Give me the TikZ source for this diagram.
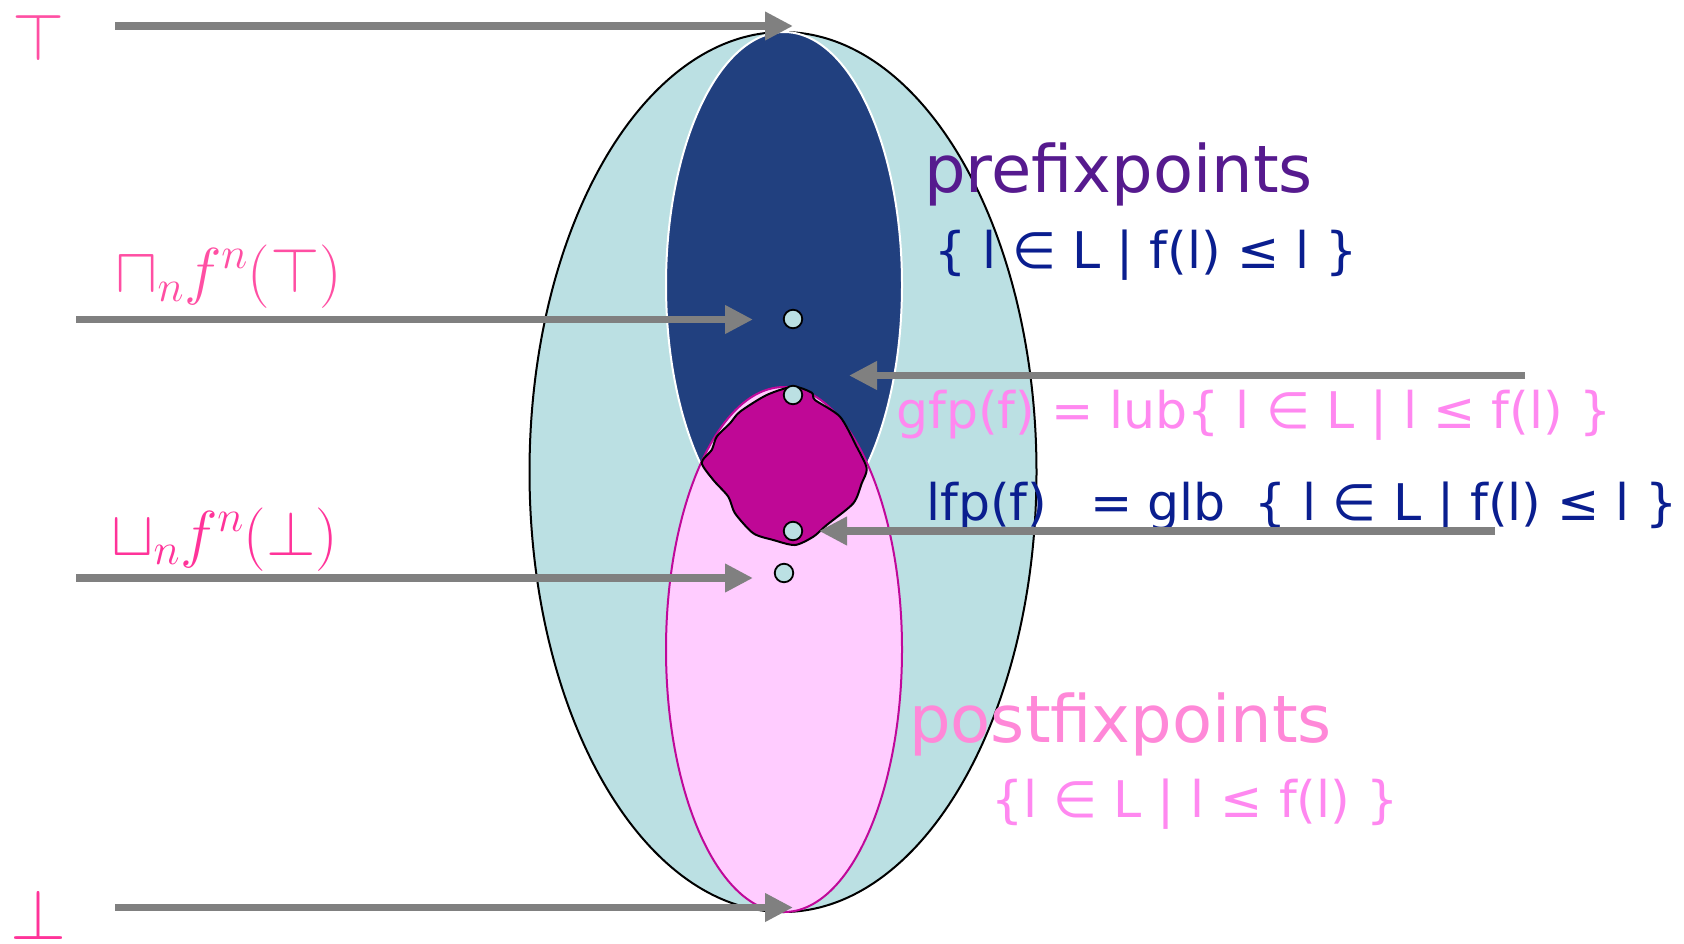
\RequirePackage{fix-cm}
\documentclass[tikz,border=0pt]{standalone}
\usepackage{fontspec}
\setmainfont{DejaVu Sans}
\usetikzlibrary{arrows.meta}
\definecolor{cyanfill}{HTML}{BBE0E3}
\definecolor{navyfill}{HTML}{21407F}
\definecolor{pinkfill}{HTML}{FFCCFF}
\definecolor{magline}{HTML}{C0089A}
\definecolor{blobfill}{HTML}{BF0896}
\definecolor{arrowgray}{HTML}{808080}
\definecolor{hotpink}{HTML}{FF4FA3}
\definecolor{hotpinkB}{HTML}{FF3399}
\definecolor{setblue}{HTML}{0A1E8F}
\definecolor{prepurple}{HTML}{561A8E}
\definecolor{lightpink}{HTML}{FF88F0}
\definecolor{postpink}{HTML}{FF88D8}
\begin{document}
\begin{tikzpicture}[x=1pt,y=-1pt,
  garrow/.style={draw=arrowgray, line width=7.5pt, -{Triangle[length=28pt,width=27pt]}},
  dot/.style={circle, draw=black, line width=1.8pt, fill=cyanfill, minimum size=18.5pt, inner sep=0pt},
  lbl/.style={anchor=base west, inner sep=0pt},
  setfont/.style={font=\fontsize{50.5}{60}\selectfont},
  bigfont/.style={font=\fontsize{65.5}{78}\selectfont},
  mathfont/.style={font=\fontsize{63.5}{76}\selectfont},
]
\useasboundingbox (0,0) rectangle (1684,943);
% regions
\draw[fill=cyanfill, draw=black, line width=2pt] (783,472) ellipse [x radius=253.5pt, y radius=440pt];
\draw[fill=navyfill, draw=white, line width=2pt] (784,285) ellipse [x radius=118pt, y radius=253pt];
\draw[fill=pinkfill, draw=magline, line width=2pt] (784,649.5) ellipse [x radius=118pt, y radius=262.5pt];
\draw[fill=blobfill, draw=black, line width=2pt] plot[smooth cycle, tension=0.45] coordinates {
  (793.3,386.7) (811.7,392.7) (815,400) (840,416.7) (856.7,446.7) (866.7,468.3)
  (861.7,483.3) (853.3,503.3) (826.7,525) (813.3,536.7) (795,545) (773.3,540)
  (753.3,533.3) (735,513.3) (728.3,496.7) (713.3,480) (701.7,462.7) (711.7,450)
  (716.7,436.7) (730,423.3) (740,411.7) (766.7,395)};
% points
\node[dot] (dA) at (793,319) {};
\node[dot] (dB) at (793,395) {};
\node[dot] (dC) at (793,531) {};
\node[dot] (dD) at (784,573) {};
% left symbols and labels
\node[text=hotpink, font=\fontsize{67}{80}\selectfont, inner sep=0pt] (topsym) at (39,37) {$\top$};
\node[text=hotpinkB, font=\fontsize{72}{86}\selectfont, inner sep=0pt] (botsym) at (38,914) {$\bot$};
\node[lbl, text=hotpink, mathfont] (meetlbl) at (115,292) {$\sqcap_n f^n(\top)$};
\node[lbl, text=hotpinkB, mathfont] (joinlbl) at (111,555) {$\sqcup_n f^n(\bot)$};
% right texts
\node[lbl, text=prepurple, bigfont] (pre) at (924,192) {prefixpoints};
\node[lbl, text=setblue, setfont] (preset) at (934,268) {\{ l ∈ L | f(l) ≤ l \}};
\node[lbl, text=lightpink, setfont] (gfp) at (896,428) {gfp(f) = lub\{ l ∈ L | l ≤ f(l) \}};
\node[lbl, text=setblue, setfont] (lfp) at (926,520) {lfp(f)\hspace{43pt}=\hspace{15pt}glb\hspace{29pt}\{ l ∈ L | f(l) ≤ l \}};
\node[lbl, text=postpink, bigfont] (post) at (909,742) {postfixpoints};
\node[lbl, text=lightpink, setfont] (postset) at (991,817) {\{l ∈ L | l ≤ f(l) \}};
% arrow ends
\coordinate (topS) at (115,26);
\coordinate (topT) at (793,26);
\coordinate (botS) at (115,907.5);
\coordinate (botT) at (793,907.5);
\coordinate (meetS) at (76,319.5);
\coordinate (meetT) at (753,319.5);
\coordinate (joinS) at (76,578);
\coordinate (joinT) at (753,578);
\coordinate (gfpS) at (1525,375.5);
\coordinate (gfpT) at (849,375.5);
\coordinate (lfpS) at (1495,531);
\coordinate (lfpT) at (819,531);
\draw[garrow] (topS) -- (topT);
\draw[garrow] (botS) -- (botT);
\draw[garrow] (meetS) -- (meetT);
\draw[garrow] (joinS) -- (joinT);
\draw[garrow] (gfpS) -- (gfpT);
\draw[garrow] (lfpS) -- (lfpT);
\end{tikzpicture}
\end{document}
